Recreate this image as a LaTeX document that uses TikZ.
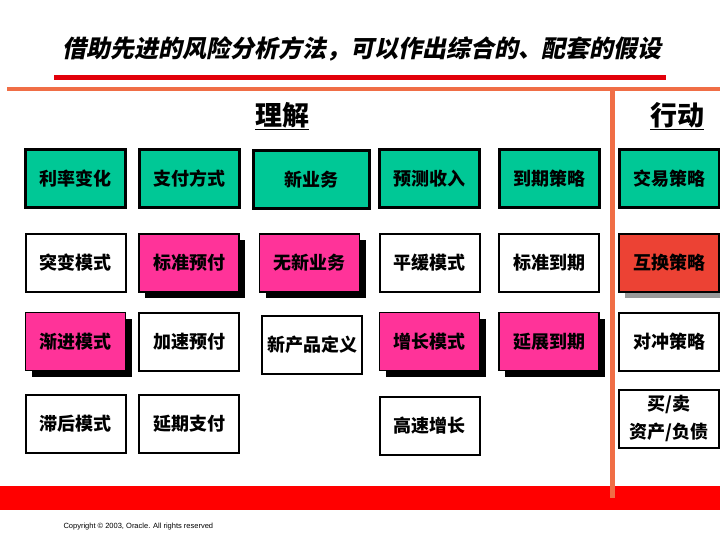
\documentclass[tikz,border=0pt]{standalone}
\usepackage{fontspec}
\usepackage{xcolor}
\usepackage{tikz}
\usetikzlibrary{shadows}
\setmainfont{Liberation Sans}
\newfontfamily\cjk{Noto Sans CJK SC}
\newfontfamily\cjkslant{Noto Sans CJK SC}[FakeSlant=0.2]

\definecolor{boxteal}{RGB}{0,200,150}
\definecolor{boxpink}{RGB}{255,51,153}
\definecolor{boxred}{RGB}{236,66,52}
\definecolor{lineorange}{RGB}{240,110,70}
\definecolor{titlered}{RGB}{226,0,10}
\definecolor{barred}{RGB}{255,0,0}

\tikzset{
  box/.style={minimum width=100pt, minimum height=58pt, inner sep=0pt,
    font=\cjk\bfseries\fontsize{18}{28}\selectfont, align=center},
  tealbox/.style={box, draw=black, line width=3pt, fill=boxteal},
  whitebox/.style={box, draw=black, line width=2pt, fill=white},
  pinkbox/.style={box, draw=black, line width=1.5pt, fill=boxpink,
    drop shadow={shadow xshift=6pt, shadow yshift=-6pt, fill=black, opacity=1}},
  swapbox/.style={box, draw=black, line width=1.5pt, fill=boxred,
    drop shadow={shadow xshift=6pt, shadow yshift=-6pt, fill=black!40, opacity=1}},
  heading/.style={font=\cjk\bfseries\fontsize{27}{30}\selectfont}
}

\begin{document}
\begin{tikzpicture}[x=1pt, y=-1pt]
    \useasboundingbox (0,0) rectangle (720,540);

    % title and rules
    \node[font=\cjkslant\bfseries\fontsize{24}{28}\selectfont] (title) at (362,49) {借助先进的风险分析方法，可以作出综合的、配套的假设};
    \fill[titlered] (54,75) rectangle (666,80);
    \fill[barred] (0,486) rectangle (720,510);
    \draw[lineorange, line width=4pt] (7,89) -- (720,89);
    \draw[lineorange, line width=5pt] (612.5,89) -- (612.5,498);

    % headings
    \node[heading] (understand) at (282,116) {\underline{理解}};
    \node[heading] (act) at (677,116) {\underline{行动}};

    % row 1
    \node[tealbox] (rate) at (75.5,179) {利率变化};
    \node[tealbox] (payway) at (189,179) {支付方式};
    \node[tealbox, minimum width=116pt] (newbiz) at (311.5,180) {新业务};
    \node[tealbox] (forecast) at (429.5,179) {预测收入};
    \node[tealbox] (maturity) at (549,179) {到期策略};
    \node[tealbox] (trade) at (669,179) {交易策略};

    % row 2
    \node[whitebox] (jump) at (75.5,263) {突变模式};
    \node[pinkbox] (stdpre) at (189,263) {标准预付};
    \node[pinkbox] (nonew) at (309.5,263) {无新业务};
    \node[whitebox] (flat) at (429.5,263) {平缓模式};
    \node[whitebox] (stdmat) at (549,263) {标准到期};
    \node[swapbox] (swap) at (669,263) {互换策略};

    % row 3
    \node[pinkbox] (gradual) at (75.5,341.5) {渐进模式};
    \node[whitebox] (fastpre) at (189,341.5) {加速预付};
    \node[whitebox] (newprod) at (312,345) {新产品定义};
    \node[pinkbox] (growth) at (429.5,341.5) {增长模式};
    \node[pinkbox] (extmat) at (549,341.5) {延展到期};
    \node[whitebox] (hedge) at (669,341.5) {对冲策略};

    % row 4
    \node[whitebox] (lag) at (75.5,424) {滞后模式};
    \node[whitebox] (delaypay) at (189,424) {延期支付};
    \node[whitebox] (fastgrow) at (429.5,426) {高速增长};
    \node[whitebox] (buysell) at (669,419) {买/卖\\资产/负债};

    % footer
    \node[font=\fontsize{7.5}{9}\selectfont, anchor=west] (copyright) at (60,527) {Copyright © 2003, Oracle. All rights reserved};
\end{tikzpicture}
\end{document}
